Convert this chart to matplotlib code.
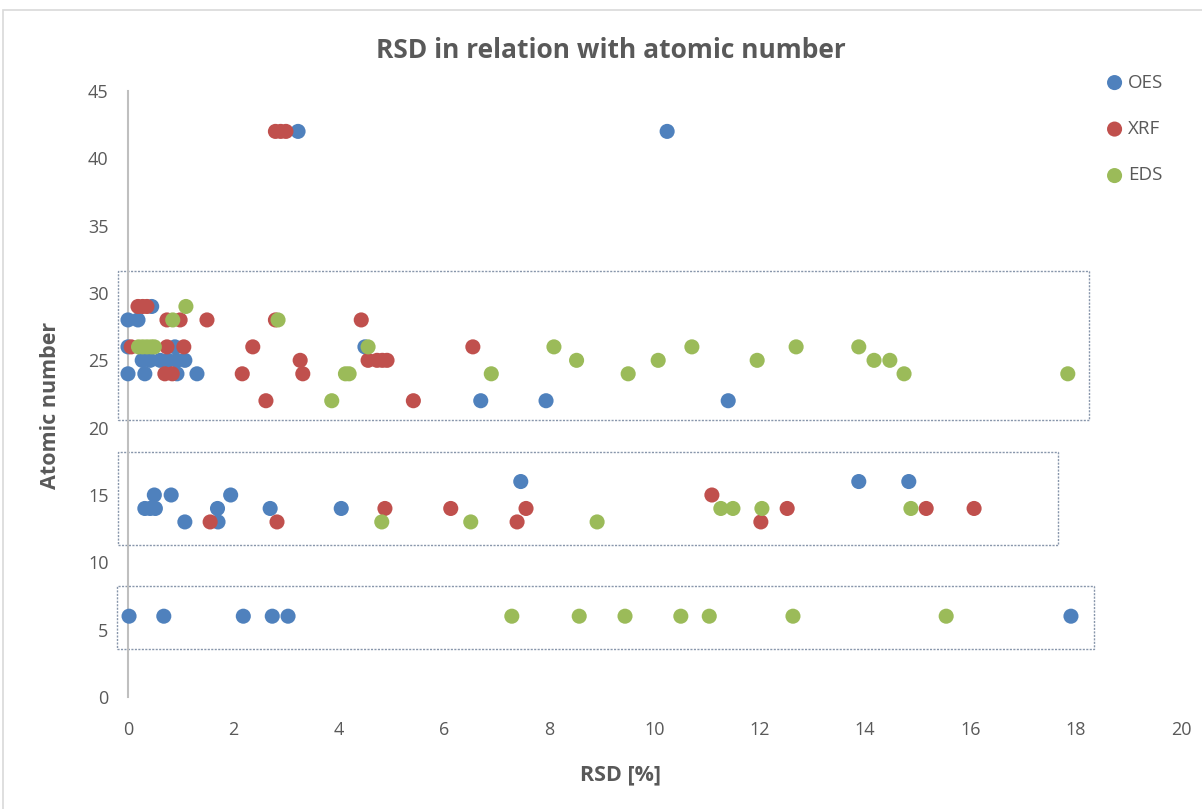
import matplotlib
matplotlib.use("Agg")
import matplotlib.pyplot as plt
from matplotlib.patches import Rectangle

plt.rcParams['font.family'] = ['Open Sans', 'DejaVu Sans']

# RSD [%] and atomic number for each method
oes_rsd = [3.23, 10.24,
           0.45,
           0.0, 0.19,
           0.0, 0.89, 4.50,
           0.27, 0.42, 0.61, 0.76, 0.93, 1.08,
           0.0, 0.32, 0.93, 1.31,
           6.70, 7.94, 11.40,
           7.46, 13.88, 14.83,
           0.50, 0.82, 1.95,
           0.32, 0.42, 0.52, 1.70, 2.70, 4.05,
           1.08, 1.71,
           0.02, 0.68, 2.19, 2.74, 3.04, 17.91]
oes_z = [42, 42,
         29,
         28, 28,
         26, 26, 26,
         25, 25, 25, 25, 25, 25,
         24, 24, 24, 24,
         22, 22, 22,
         16, 16, 16,
         15, 15, 15,
         14, 14, 14, 14, 14, 14,
         13, 13,
         6, 6, 6, 6, 6, 6]

xrf_rsd = [2.80, 2.90, 3.00,
           0.19, 0.28, 0.36,
           0.74, 0.99, 1.50, 2.80, 4.43,
           0.06, 0.74, 1.06, 2.37, 6.55,
           3.27, 4.56, 4.73, 4.83, 4.92,
           0.70, 0.84, 2.17, 3.32,
           2.62, 5.42,
           11.09,
           4.88, 6.13, 7.56, 12.52, 15.16, 16.07,
           1.56, 2.83, 7.39, 12.02]
xrf_z = [42, 42, 42,
         29, 29, 29,
         28, 28, 28, 28, 28,
         26, 26, 26, 26, 26,
         25, 25, 25, 25, 25,
         24, 24, 24, 24,
         22, 22,
         15,
         14, 14, 14, 14, 14, 14,
         13, 13, 13, 13]

eds_rsd = [1.10,
           0.85, 2.85,
           0.20, 0.28, 0.36, 0.44, 0.50, 4.56, 8.09, 10.71, 12.69, 13.88,
           8.52, 10.07, 11.95, 14.17, 14.47,
           4.13, 4.20, 6.90, 9.50, 14.74, 17.85,
           3.87,
           11.26, 11.49, 12.04, 14.87,
           4.82, 6.51, 8.91,
           7.29, 8.57, 9.44, 10.50, 11.04, 12.63, 15.54]
eds_z = [29,
         28, 28,
         26, 26, 26, 26, 26, 26, 26, 26, 26, 26,
         25, 25, 25, 25, 25,
         24, 24, 24, 24, 24, 24,
         22,
         14, 14, 14, 14,
         13, 13, 13,
         6, 6, 6, 6, 6, 6, 6]

series = [("OES", oes_rsd, oes_z, "#4F81BD"),
          ("XRF", xrf_rsd, xrf_z, "#C0504D"),
          ("EDS", eds_rsd, eds_z, "#9BBB59")]

x_ticks = [0, 2, 4, 6, 8, 10, 12, 14, 16, 18, 20]
y_ticks = [0, 5, 10, 15, 20, 25, 30, 35, 40, 45]

# Grouping frames: (x0, y0, x1, y1) in data units
groups = [(-0.19, 20.56, 18.25, 31.63),
          (-0.19, 11.28, 17.66, 18.19),
          (-0.21, 3.56, 18.35, 8.24)]

fig = plt.figure(figsize=(12.02, 8.09), dpi=100)
fig.patches.append(Rectangle((3 / 1202, -0.01), 1.02, 1 - 10 / 809 + 0.01,
                             transform=fig.transFigure, fill=False,
                             edgecolor="#D9D9D9", linewidth=1.2))

ax = fig.add_axes([128 / 1202, 1 - 697 / 809, (1181 - 128) / 1202, (697 - 91) / 809])

for name, xs, ys, col in series:
    ax.scatter(xs, ys, s=118, color=col, edgecolors="none", label=name, zorder=3,
               clip_on=False)

for x0, y0, x1, y1 in groups:
    ax.add_patch(Rectangle((x0, y0), x1 - x0, y1 - y0, fill=False,
                           edgecolor="#8896AB", linewidth=1.0,
                           linestyle=(0, (1.5, 1.0)), clip_on=False, zorder=2))

ax.set_xlim(0, 20)
ax.set_ylim(0, 45)
ax.set_xticks(x_ticks)
ax.set_yticks(y_ticks)
ax.tick_params(axis="both", length=0, labelsize=13, labelcolor="#595959")
ax.tick_params(axis="x", pad=17)
ax.tick_params(axis="y", pad=14)

for side in ("top", "right", "bottom"):
    ax.spines[side].set_visible(False)
ax.spines["left"].set_color("#BFBFBF")
ax.spines["left"].set_linewidth(1.5)

fig.text(621 / 1202, 1 - 775 / 809, "RSD [%]", ha="center", va="center",
         fontsize=15.5, fontweight="bold", color="#595959")
fig.text(51 / 1202, 1 - 405 / 809, "Atomic number", ha="center", va="center",
         rotation=90, fontsize=15.5, fontweight="bold", color="#595959")

fig.text(611 / 1202, 1 - 51 / 809, "RSD in relation with atomic number",
         ha="center", va="center", fontsize=19, fontweight="bold", color="#595959")

leg = fig.legend(loc="upper left", bbox_to_anchor=(1093 / 1202, 1 - 66 / 809),
                 frameon=False, fontsize=13.5, labelspacing=1.52, handletextpad=-0.05,
                 handlelength=1.5, markerscale=1.0, borderaxespad=0)
for t in leg.get_texts():
    t.set_color("#595959")

fig.savefig("out.png", dpi=100)
